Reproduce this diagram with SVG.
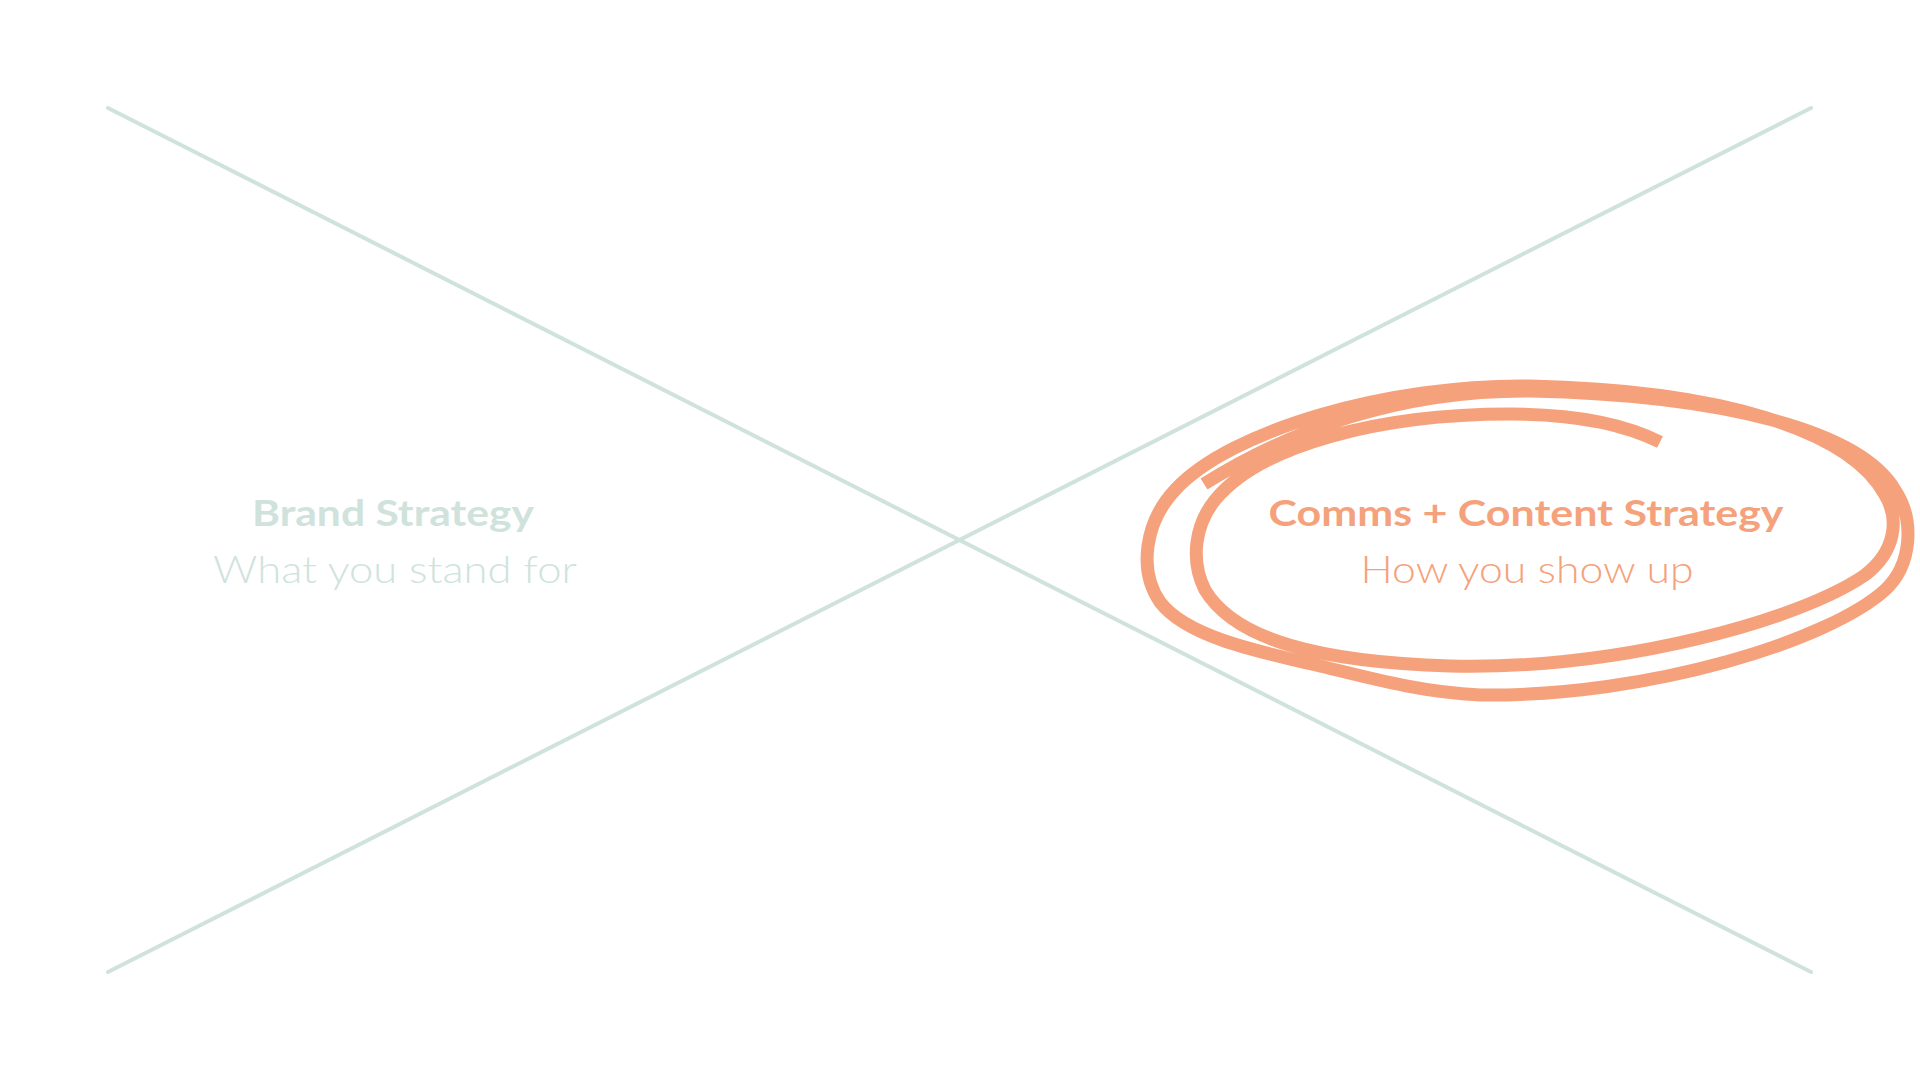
<svg xmlns="http://www.w3.org/2000/svg" width="1920" height="1080" viewBox="0 0 1920 1080">
  <style>
    .axis { stroke: #cfe3dc; stroke-width: 4; fill: none; stroke-linecap: round; }
    .title { font-family: Lato, "Liberation Sans", sans-serif; font-weight: 700; font-size: 37px; text-anchor: middle; }
    .sub { font-family: Lato, "Liberation Sans", sans-serif; font-weight: 300; font-size: 38px; text-anchor: middle; }
    .teal { fill: #cfe3dc; }
    .orange { fill: #f5a27c; }
    .scribble { fill: none; stroke: #f5a27c; stroke-width: 13; stroke-linecap: butt; stroke-linejoin: round; }
  </style>
  <rect width="1920" height="1080" fill="#ffffff"/>
  <g id="connectors">
    <line class="axis" x1="108" y1="108" x2="1811" y2="972"/>
    <line class="axis" x1="108" y1="972" x2="1811" y2="108"/>
  </g>
  <g id="brand-strategy">
    <text class="title teal" x="393" y="526" textLength="282" lengthAdjust="spacingAndGlyphs">Brand Strategy</text>
    <text class="sub teal" x="395" y="583" textLength="364" lengthAdjust="spacingAndGlyphs">What you stand for</text>
  </g>
  <g id="comms-content-strategy">
    <path class="scribble" d="M 1660,442 C 1620,422 1570,414 1510,414 C 1380,414 1260,445 1215,500 C 1195,525 1190,560 1205,590 C 1235,640 1320,662 1450,666 C 1620,670 1800,620 1865,575 C 1895,552 1900,520 1885,495 C 1850,430 1720,390 1530,386 C 1390,384 1230,430 1175,490 C 1145,522 1138,570 1160,602 C 1185,635 1250,650 1316,665 C 1370,678 1420,692 1480,695 C 1650,697 1830,640 1885,590 C 1912,565 1915,520 1895,490 C 1860,430 1720,395 1530,391 C 1400,390 1290,430 1204,484"/>
    <text class="title orange" x="1526" y="526" textLength="515" lengthAdjust="spacingAndGlyphs">Comms + Content Strategy</text>
    <text class="sub orange" x="1527" y="583" textLength="333" lengthAdjust="spacingAndGlyphs">How you show up</text>
  </g>
</svg>
